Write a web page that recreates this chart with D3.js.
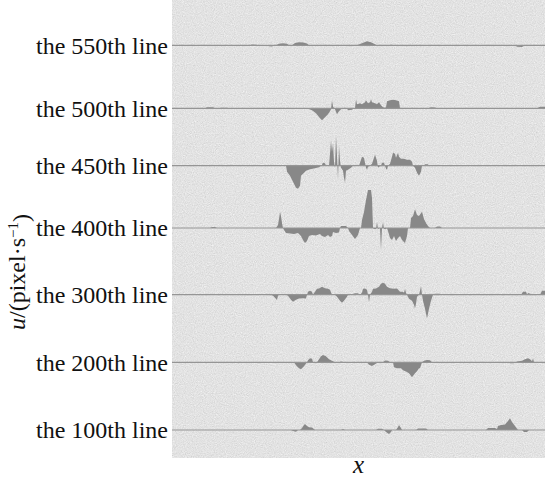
<!DOCTYPE html>
<html>
<head>
<meta charset="utf-8">
<script src="https://cdn.jsdelivr.net/npm/d3@7"></script>
<style>
  body { margin: 0; background: #fff; }
  svg { display: block; }
  text { font-family: "Liberation Serif", "Times New Roman", serif; fill: #111; }
</style>
</head>
<body>
<script>
// row names, top to bottom
const lineNames = ['the 550th line', 'the 500th line', 'the 450th line', 'the 400th line',
  'the 300th line', 'the 200th line', 'the 100th line']

// velocity profiles, [x, u] breakpoints (zero elsewhere)
const u550 = [[0,0],[78,0],[80,0.8],[84,0.6],[86,0],[95,0],[97,-1],[100,-1.2],[102,0],[104,0],[107,1.5],[111,2],[115,1.5],[117,0],[120,0],[123,2.2],[127,3],[131,2.8],[135,1.8],[137,0],[182,0],[186,0.6],[190,2],[195,4],[199,3],[203,1],[205,0],[207,-0.8],[209,0],[216,0],[219,0.6],[223,0],[265,0],[267,-0.8],[272,-0.8],[274,0],[343,0],[345,-1.5],[350,-1.8],[353,0],[373,0]]
const u500 = [[0,0],[33,0],[35,1],[41,1],[43,0],[47,0],[49,0.6],[55,0.5],[57,0],[135,0],[136,-0.5],[140,-2],[144,-5],[148,-10],[150,-12],[153,-9],[156,-6],[158,-3],[159,-1],[160,8],[161,2],[162,0],[163,-1],[165,-6],[167,-3],[169,-1],[171,0],[173,0.5],[175,0],[176,-2],[180,-1.5],[182,0],[183,0],[184,9],[185,4],[188,5],[190,4],[193,6],[194,8],[196,5],[198,6],[199,9],[200,6],[203,5],[205,4],[207,6],[209,3],[211,1],[213,0.5],[214,1],[215,7],[218,8],[221,8.5],[224,8],[227,7],[228,0],[230,-1],[232,0],[238,0],[240,0.6],[243,0],[256,0],[259,1],[263,0.8],[265,0],[295,0],[297,-0.8],[300,0],[365,0],[368,1.5],[373,1.5]]
const u450 = [[0,0],[114,0],[115,-6],[118,-10],[121,-16],[124,-22],[126,-23],[128,-20],[129,-10],[131,-8],[134,-5],[138,-3.5],[143,-2.5],[147,-1.5],[149,0],[150,1],[151,3],[153,2.5],[154,0],[157,0],[158,12],[159,25],[160,14],[161,22],[162,4],[163,-2],[164,30],[165,10],[166,-14],[167,20],[168,5],[169,-2],[171,-5],[172,-12],[173,-17],[174,-5],[176,-4],[179,-2],[181,0],[183,0],[185,1],[187,0],[188,3],[190,9],[192,8],[193,3],[194,-2],[195,-4],[196,-1],[198,0],[200,2],[202,8],[203,11],[205,5],[206,-2],[207,-1],[209,0],[210,3],[212,3],[213,0],[214,-3],[215,-4],[216,0],[218,2],[220,9],[221,13],[223,12],[224,8],[226,13],[227,9],[229,7],[232,7],[235,6],[238,6],[240,4],[241,0],[243,-2],[245,-7],[247,-10],[249,-6],[250,0],[252,0],[253,1.5],[256,1.5],[257,0],[373,0]]
const u400 = [[0,0],[38,0],[40,1],[43,1],[45,0],[104,0],[106,3],[107,9],[108,16],[109,12],[110,5],[111,0],[112,-2],[114,-5],[118,-5.5],[122,-6],[126,-5],[129,-8],[131,-12],[133,-15],[135,-13],[137,-8],[140,-7],[144,-7.5],[148,-6],[150,-8],[153,-9],[156,-7],[158,-9],[160,-8],[161,-4],[164,-5],[167,-4.5],[168,0],[169,2],[174,2],[176,0],[177,-3],[180,-7],[183,-11],[186,-7],[188,0],[189,0],[190,8],[192,16],[194,28],[196,38],[199,38],[200,30],[201,0],[202,-1],[204,-1],[205,6],[206,-1],[208,0],[209,-22],[210,0],[211,6],[212,-1],[214,-1],[215,0],[216,-3],[218,-10],[220,-12],[222,-8],[224,-13],[226,-10],[228,-8],[230,-12],[233,-15],[235,-8],[236,0],[238,0],[239,10],[241,12],[243,18.7],[245,13],[247,12],[250,16.3],[252,9],[254,5],[256,2],[258,0],[263,0],[265,1.5],[268,1.5],[270,0],[373,0]]
const u300 = [[0,0],[99,0],[101,-1],[103,-3],[105,-5.3],[106,-1],[107,0],[114,0],[116,-1],[119,-5],[121,-7],[124,-5],[127,-3.7],[131,-3.5],[134,-3.7],[135,0],[136,3],[138,4],[140,3],[141,0],[143,3],[145,6],[147,6.3],[150,8],[153,6.5],[156,6],[158,5],[160,0],[163,0],[165,-2],[168,-6],[170,-8],[172,-6],[175,-2],[176,0],[180,0.5],[183,1.5],[186,1.5],[188,0],[190,2],[191,6],[193,6.3],[195,5],[196,0],[197,-7.7],[198,0],[200,3],[201,6],[204,6.3],[207,8],[209,11],[211,12],[213,11],[215,8],[218,6.5],[222,6],[225,6.3],[228,3],[231,3],[232,2],[233,6],[234,2],[235,0],[237,-4],[240,-6],[242,-10],[243,-13.7],[244,-9],[245,-2],[247,0],[248,4],[249,8.7],[250,0],[251,-6],[253,-14],[255,-23.7],[257,-14],[259,-6],[261,0],[263,1],[268,1],[270,0],[349,0],[351,3],[354,3],[355,0.5],[357,2],[358,0.5],[368,0],[370,4],[373,4]]
const u200 = [[0,0],[122,0],[124,-3],[127,-6],[129,-7],[132,-4],[135,0],[136,2],[138,4],[140,3.5],[141,0],[145,0],[147,3],[149,6],[151,7.3],[154,6],[157,3],[160,1.5],[163,0],[167,0],[169,0.8],[172,0],[177,0],[179,-0.8],[182,0],[195,0],[197,-2.5],[200,-3.7],[203,-2],[206,0],[211,0],[213,1.7],[216,1.5],[218,0],[221,0],[222,-5],[225,-6],[229,-6],[231,-8],[234,-9.3],[237,-11],[240,-15],[243,-11],[245,-9],[247,-6],[248,-6],[250,0],[252,1.5],[255,2.3],[258,2],[260,0],[336,0],[338,-1],[342,-1],[344,0],[345,0.8],[350,1.5],[353,3],[356,4],[358,3],[360,1],[361,4],[362,0],[373,0]]
const u100 = [[0,0],[119,0],[121,-1],[124,-1.7],[126,0],[128,0],[130,2],[132,5],[133,6],[135,4],[137,2.7],[140,2.5],[143,0],[169,0],[171,1],[173,0],[204,0],[206,1.3],[210,1.3],[212,0],[214,-2],[217,-4],[219,-2],[220,0],[224,0],[226,3],[227,5],[229,2],[230,0],[244,0],[246,1.5],[254,1.5],[256,0],[314,0],[316,2],[323,2],[325,1],[326,4],[329,5],[333,5.5],[336,9],[338,11.7],[340,8],[343,4],[346,0],[350,0],[352,-2],[355,-2],[357,0],[373,0]]

const series = [u550, u500, u450, u400, u300, u200, u100]

const width = 545
const height = 477
const panel = { left: 172, right: 545, top: 0, bottom: 458 }
// baseline of each row inside the panel
const rowY = [45.3, 108.3, 165.7, 228, 294.7, 362.3, 430]

const svg = d3.select('body').append('svg').attr('width', width).attr('height', height)

// grainy grey background
const defs = svg.append('defs')
const noise = defs.append('filter').attr('id', 'grain')
	.attr('x', 0).attr('y', 0).attr('width', 1).attr('height', 1)
	.attr('color-interpolation-filters', 'sRGB')
noise.append('feTurbulence').attr('type', 'fractalNoise').attr('baseFrequency', 0.9)
	.attr('numOctaves', 2).attr('seed', 4).attr('result', 't')
noise.append('feColorMatrix').attr('type', 'matrix')
	.attr('values', '0.33 0.33 0.33 0 0  0.33 0.33 0.33 0 0  0.33 0.33 0.33 0 0  0 0 0 0 1')
const tr = noise.append('feComponentTransfer')
tr.append('feFuncR').attr('type', 'linear').attr('slope', 0.26).attr('intercept', 0.76)
tr.append('feFuncG').attr('type', 'linear').attr('slope', 0.26).attr('intercept', 0.76)
tr.append('feFuncB').attr('type', 'linear').attr('slope', 0.26).attr('intercept', 0.76)

svg.append('rect')
	.attr('x', panel.left).attr('y', panel.top)
	.attr('width', panel.right - panel.left).attr('height', panel.bottom - panel.top)
	.attr('fill', '#dfdfdf')
	.attr('filter', 'url(#grain)')

const x = d3.scaleLinear().domain([0, 373]).range([panel.left, panel.right])
const u = d3.scaleLinear().domain([-40, 40]).range([40, -40])

series.forEach(function (data, i) {
	const base = rowY[i]
	const g = svg.append('g').attr('transform', 'translate(0,' + base + ')')

	const area = d3.area()
		.x(function (d) { return x(d[0]) })
		.y0(u(0))
		.y1(function (d) { return u(d[1]) })

	g.append('path')
		.datum(data)
		.attr('d', area)
		.attr('fill', '#888888')

	g.append('line')
		.attr('x1', panel.left).attr('x2', panel.right)
		.attr('y1', 0).attr('y2', 0)
		.attr('stroke', '#959595')
		.attr('stroke-width', 1.2)

	svg.append('text')
		.attr('x', 168)
		.attr('y', base)
		.attr('dy', '0.35em')
		.attr('text-anchor', 'end')
		.style('font-size', '24px')
		.text(lineNames[i])
})

// axis titles
const ylab = svg.append('text')
	.attr('transform', 'translate(25,272) rotate(-90)')
	.attr('text-anchor', 'middle')
	.style('font-size', '24px')
ylab.append('tspan').style('font-style', 'italic').text('u')
ylab.append('tspan').text('/(pixel·s')
ylab.append('tspan').attr('dy', '-0.45em').style('font-size', '15px').text('−1')
ylab.append('tspan').attr('dy', '0.45em').text(')')

svg.append('text')
	.attr('x', (panel.left + panel.right) / 2)
	.attr('y', 473)
	.attr('text-anchor', 'middle')
	.style('font-size', '25px')
	.style('font-style', 'italic')
	.text('x')
</script>
</body>
</html>
